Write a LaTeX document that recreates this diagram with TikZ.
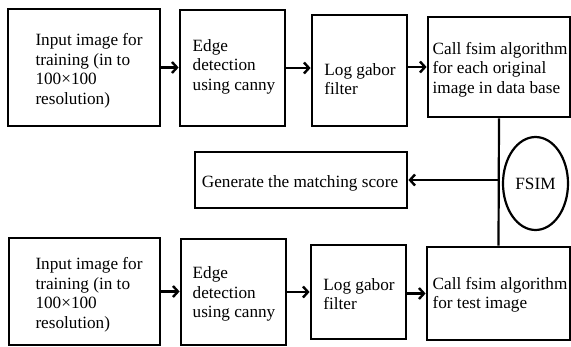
\documentclass[tikz,border=0pt]{standalone}
\usepackage{fontspec}
\setmainfont{Liberation Serif}
\usetikzlibrary{arrows.meta,shapes.geometric}

\tikzset{
  box/.style={draw, line width=2.8pt, inner sep=0pt},
  txt/.style={align=left, inner sep=0pt, font=\fontsize{17.2}{19.5}\selectfont},
  arr/.style={line width=2.8pt, -{Straight Barb[length=5pt, width=11pt, line width=2.4pt]}},
  link/.style={line width=2.2pt},
}

\begin{document}
\begin{tikzpicture}[x=1pt, y=-1pt]
  \useasboundingbox (0,0) rectangle (571,346);

  % training branch
  \node[box, minimum width=152pt, minimum height=117pt] (t1) at (84,67.5) {};
  \node[txt] (t1t) at (89,71) {Input image for\\training (in to\\100×100\\resolution)};
  \node[box, minimum width=105pt, minimum height=116pt] (t2) at (232.5,68) {};
  \node[txt] (t2t) at (234,66.5) {Edge\\detection\\using canny};
  \node[box, minimum width=95pt, minimum height=111pt] (t3) at (359.5,70.5) {};
  \node[txt] (t3t) at (360,79) {Log gabor\\filter};
  \node[box, minimum width=142pt, minimum height=100pt] (t4) at (499,67) {};
  \node[txt] (t4t) at (500,69.5) {Call fsim algorithm\\for each original\\image in data base};

  % test branch
  \node[box, minimum width=151pt, minimum height=107pt] (b1) at (84.5,291.5) {};
  \node[txt] (b1t) at (89,295) {Input image for\\training (in to\\100×100\\resolution)};
  \node[box, minimum width=105pt, minimum height=106pt] (b2) at (233.5,292) {};
  \node[txt] (b2t) at (234,294) {Edge\\detection\\using canny};
  \node[box, minimum width=95pt, minimum height=94pt] (b3) at (358.5,292) {};
  \node[txt] (b3t) at (359,294) {Log gabor\\filter};
  \node[box, minimum width=143pt, minimum height=93pt] (b4) at (498.5,293.5) {};
  \node[txt] (b4t) at (500,295) {Call fsim algorithm\\for test image};

  % result
  \node[box, minimum width=212pt, minimum height=56pt] (g) at (301,180) {};
  \node[txt] (gt) at (300,183) {Generate the matching score};
  \node[draw, ellipse, line width=2.2pt, inner sep=0pt,
        minimum width=65pt, minimum height=93pt] (fs) at (535.5,183.5) {};
  \node[txt] (fst) at (535.5,184) {FSIM};

  % connectors
  \draw[arr] (t1.east) -- (t1.east -| t2.west);
  \draw[arr] (t2.east) -- (t2.east -| t3.west);
  \draw[arr] (t3.east |- t4.west) -- (t4.west);
  \draw[arr] (b1.east) -- (b1.east -| b2.west);
  \draw[arr] (b2.east) -- (b2.east -| b3.west);
  \draw[arr] (b3.east |- b4.west) -- (b4.west);
  \draw[link] (t4.south) -- (b4.north);
  \draw[arr] (t4.south |- g.east) -- (g.east);
\end{tikzpicture}
\end{document}
